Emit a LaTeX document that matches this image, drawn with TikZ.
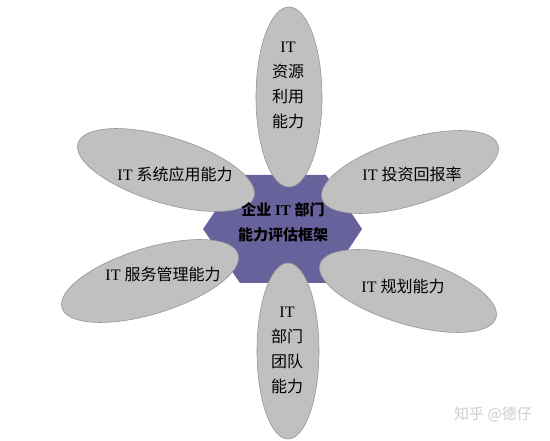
\documentclass[tikz,border=0pt]{standalone}
\usepackage{fontspec}
\setmainfont{Liberation Serif}
\newfontfamily\cjk{Noto Sans CJK SC}
\usetikzlibrary{shapes.geometric}
\definecolor{hexpurple}{RGB}{104,98,156}
\definecolor{petalgray}{RGB}{192,192,192}
\definecolor{petalline}{RGB}{150,150,150}
\definecolor{wmgray}{RGB}{205,205,205}
\tikzset{
  petal/.style={ellipse, draw=petalline, line width=0.6pt, fill=petalgray, inner sep=0pt, outer sep=0pt},
  sidepetal/.style={petal, minimum width=184pt, minimum height=66pt},
  label/.style={font=\fontsize{16}{25}\selectfont, text=black, align=center, inner sep=0pt},
}
\begin{document}
\begin{tikzpicture}[x=1pt,y=-1pt]
\useasboundingbox (0,0) rectangle (550,441);
% central hexagon
\fill[hexpurple] (240,175) -- (326,175) -- (362,229) -- (326,283) -- (240,283) -- (203,229) -- cycle;
% petals
\node[petal, minimum width=66pt, minimum height=180pt] (top) at (289,97) {};
\node[petal, minimum width=62pt, minimum height=176pt] (bottom) at (288,351) {};
\node[sidepetal, rotate=-17] (ul) at (166,170) {};
\node[sidepetal, rotate=17] (ur) at (410,172) {};
\node[sidepetal, rotate=17] (ll) at (150,281) {};
\node[sidepetal, rotate=-17] (lr) at (408,291) {};
% texts
\node[label, font=\fontsize{15}{25}\selectfont\bfseries] (core) at (283,222) {{\cjk\bfseries 企业} \textbf{IT} {\cjk\bfseries 部门}\\{\cjk\bfseries 能力评估框架}};
\node[label] (ttop) at (288,85) {IT\\{\cjk 资源}\\{\cjk 利用}\\{\cjk 能力}};
\node[label] (tbottom) at (287,350) {IT\\{\cjk 部门}\\{\cjk 团队}\\{\cjk 能力}};
\node[label] (tul) at (175,174) {IT {\cjk 系统应用能力}};
\node[label] (tur) at (412,174) {IT {\cjk 投资回报率}};
\node[label] (tll) at (163,274) {IT {\cjk 服务管理能力}};
\node[label] (tlr) at (403,286) {IT {\cjk 规划能力}};
\node[text=wmgray, font=\cjk\fontsize{15}{17}\selectfont, inner sep=0pt] (wm) at (493,414) {知乎 @德仔};
\end{tikzpicture}
\end{document}
